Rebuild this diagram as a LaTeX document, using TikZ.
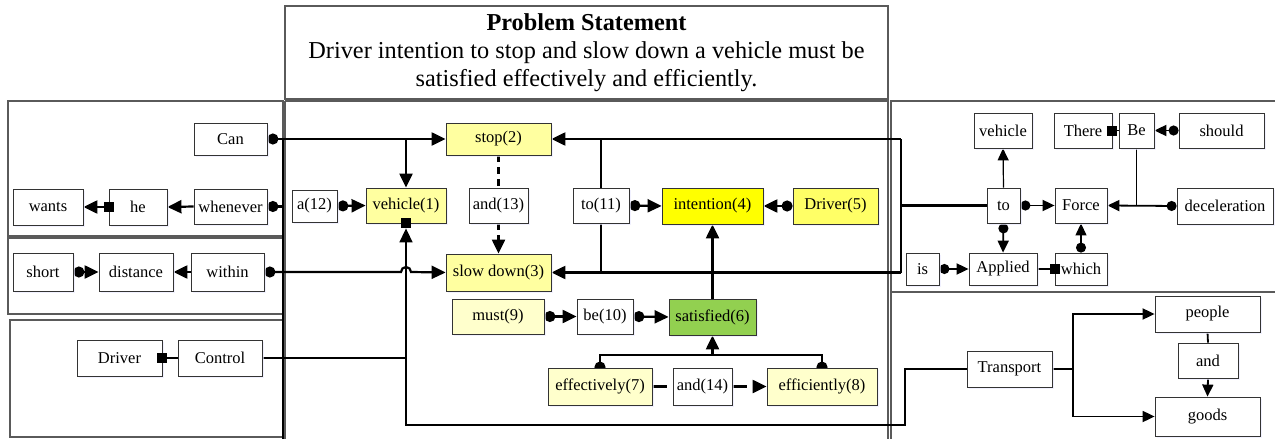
\documentclass[tikz,border=0pt]{standalone}
\usepackage{fontspec}
\setmainfont{Liberation Serif}
\usetikzlibrary{arrows.meta,backgrounds,calc,shadows}

\definecolor{ylight}{RGB}{255,255,160}
\definecolor{ypale}{RGB}{255,255,204}
\definecolor{ymid}{RGB}{255,255,102}
\definecolor{yfull}{RGB}{255,255,0}
\definecolor{gsat}{RGB}{146,208,80}
\definecolor{panelgray}{RGB}{90,90,90}

\tikzset{
  word/.style={draw=black!80, line width=0.8pt, fill=white, inner sep=0pt,
    font=\fontsize{16.5}{18}\selectfont,
    drop shadow={shadow xshift=1.5pt, shadow yshift=-1.5pt, fill=blue!8, opacity=0.7}},
  sz/.style n args={2}{minimum width=#1pt, minimum height=#2pt},
  panel/.style={draw=panelgray, line width=1.2pt},
  link/.style={line width=2.2pt},
  mlink/.style={line width=1.6pt},
  rlink/.style={line width=1.8pt},
  tlink/.style={line width=1.2pt},
  arr/.style={-{Triangle[length=14pt,width=13pt]}},
  dotarr/.style={{Circle[length=11pt]}-{Triangle[length=14pt,width=13pt]}},
  dotline/.style={{Circle[length=11pt]}-},
  rarr/.style={-{Triangle[length=12pt,width=11pt]}},
  rdotarr/.style={{Circle[length=10pt]}-{Triangle[length=12pt,width=11pt]}},
  sqmark/.style={fill=black, minimum size=10pt, inner sep=0pt},
}

\begin{document}
\begin{tikzpicture}[x=1pt,y=-1pt]
\useasboundingbox (0,0) rectangle (1275,439);

% ---------- problem statement ----------
\node[draw=panelgray, line width=1.2pt, sz={603}{93}, align=center,
      font=\fontsize{24.3}{28}\selectfont] (title) at (586.5,52.5)
  {\textbf{Problem Statement}\\
   Driver intention to stop and slow down a vehicle must be\\
   satisfied effectively and efficiently.};

% ---------- left column ----------
\node[word, sz={73}{32}] (can) at (230.5,139) {Can};
\node[word, sz={70}{36}] (wants) at (48,207) {wants};
\node[word, sz={58}{36}] (he) at (138,207) {he};
\node[word, sz={73}{35}] (whenever) at (230.5,206.5) {whenever};
\node[word, sz={60}{38}] (short) at (43,272) {short};
\node[word, sz={74}{38}] (distance) at (136,272) {distance};
\node[word, sz={73}{38}] (within) at (227.5,272) {within};
\node[word, sz={85}{36}] (driverL) at (119.5,358) {Driver};
\node[word, sz={84}{36}] (control) at (220,358) {Control};

% ---------- central graph ----------
\node[word, sz={105}{32}, fill=ylight] (stop) at (498.5,139) {stop(2)};
\node[word, sz={80}{35}, fill=ylight] (vehicle) at (406,205.5) {vehicle(1)};
\node[word, sz={45}{32}] (a12) at (314.5,206) {a(12)};
\node[word, sz={59}{35}] (and13) at (498.5,205.5) {and(13)};
\node[word, sz={105}{37}, fill=ylight] (slow) at (498.5,272.5) {slow down(3)};
\node[word, sz={56}{35}] (to11) at (601,205.5) {to(11)};
\node[word, sz={101}{36}, fill=yfull] (intention) at (712.5,206) {intention(4)};
\node[word, sz={85}{36}, fill=ymid] (driver5) at (835.5,206) {Driver(5)};
\node[word, sz={92}{35}, fill=ypale] (must) at (498,316.5) {must(9)};
\node[word, sz={56}{35}] (be10) at (605,316.5) {be(10)};
\node[word, sz={87}{36}, fill=gsat] (satisfied) at (712.5,317) {satisfied(6)};
\node[word, sz={104}{37}, fill=ypale] (effectively) at (600,386.5) {effectively(7)};
\node[word, sz={59}{37}] (and14) at (702.5,386.5) {and(14)};
\node[word, sz={110}{37}, fill=ypale] (efficiently) at (822,386.5) {efficiently(8)};

% ---------- right column ----------
\node[word, sz={58}{35}] (vehicleR) at (1003,130.5) {vehicle};
\node[word, sz={58}{35}] (there) at (1083,130.5) {There};
\node[word, sz={35}{35}] (be) at (1136.5,130.5) {Be};
\node[word, sz={85}{35}] (should) at (1221.5,130.5) {should};
\node[word, sz={33}{35}] (toR) at (1003.5,205.5) {to};
\node[word, sz={52}{35}] (force) at (1081,205.5) {Force};
\node[word, sz={96}{36}] (decel) at (1225,206) {deceleration};
\node[word, sz={33}{32}] (is) at (922.5,269) {is};
\node[word, sz={68}{32}] (applied) at (1003,269) {Applied};
\node[word, sz={52}{32}] (which) at (1081,269) {which};
\node[word, sz={85}{36}] (transport) at (1009.5,369) {Transport};
\node[word, sz={105}{36}] (people) at (1207.5,314) {people};
\node[word, sz={60}{35}] (andR) at (1208,360.5) {and};
\node[word, sz={105}{39}] (goods) at (1207.5,416.5) {goods};

% square end marks sit on top of the boxes
\node[sqmark] (sqHe) at (he.west) {};
\node[sqmark] (sqDriver) at (driverL.east) {};
\node[sqmark] (sqVehicle) at (vehicle.south) {};
\node[sqmark] (sqWhich) at (which.west) {};
\node[sqmark] (sqThere) at (there.east) {};

% routing points
\coordinate (busT) at (283,139);
\coordinate (busB) at (283,445);
\coordinate (loopT) at (901,139);
\coordinate (loopB) at (901,272.5);
\coordinate (rt) at (905,369);
\coordinate (rb) at (905,425);
\coordinate (ejoin) at (712.5,355);
\coordinate (tsplit) at (1073,369);

\begin{scope}[on background layer]
  % panels
  \draw[panel] (285,101) -- (285,445);
  \draw[panel] (285,101) -- (888,101) -- (888,445);
  \draw[panel] (8,101) rectangle (283,236);
  \draw[panel] (8,238) rectangle (283,314);
  \draw[panel] (10,320) rectangle (285,437);
  \draw[panel] (891,445) -- (891,101) -- (1280,101);
  \draw[panel] (891,292) -- (1280,292);

  % left column links
  \draw[link] (busT) -- (busB);
  \draw[link, dotarr] (can.east) -- (stop.west);
  \draw[link, arr] (can.east -| vehicle.north) -- (vehicle.north);
  \draw[link, dotline] (whenever.east) -- (whenever.east -| busT);
  \draw[link, arr] (whenever.west) -- (he.east);
  \draw[link, arr] (he.west) -- (wants.east);
  \draw[link, dotarr] (short.east) -- (distance.west);
  \draw[link, arr] (within.west) -- (distance.east);
  \draw[link, dotarr] (within.east)
     -- ($(within.east -| vehicle.south)+(-5,0)$)
     arc[start angle=180, end angle=360, radius=5]
     -- (slow.west);
  \draw[mlink] (driverL.east) -- (control.west);
  \draw[mlink] (control.east) -- (control.east -| vehicle.south);
  \draw[mlink, arr] (transport.west) -- (rt) -- (rb) -- (rb -| vehicle.south)
     -- ($(vehicle.south)+(0,5)$);

  % central links
  \draw[link, dotarr] (a12.east) -- (vehicle.west);
  \draw[link, dash pattern=on 7pt off 5pt] (stop.south) -- (and13.north);
  \draw[link, dash pattern=on 7pt off 5pt, arr] (and13.south) -- (slow.north);
  \draw[link, arr] (loopT) -- (stop.east);
  \draw[link, arr] (loopB) -- (slow.east);
  \draw[link] (loopT) -- (loopB);
  \draw[link] (stop.east -| to11.north) -- (to11.north);
  \draw[link] (to11.south) -- (slow.east -| to11.south);
  \draw[link] (loopT |- toR.west) -- (toR.west);
  \draw[link, dotarr] (to11.east) -- (intention.west);
  \draw[link, dotarr] (driver5.west) -- (intention.east);
  \draw[link, arr] (satisfied.north) -- (intention.south);
  \draw[link, dotarr] (must.east) -- (be10.west);
  \draw[link, dotarr] (be10.east) -- (satisfied.west);
  \draw[link, {Circle[length=11pt]}-{Circle[length=11pt]},
        shorten <=-5pt, shorten >=-5pt]
     (effectively.north) -- (effectively.north |- ejoin)
     -- (efficiently.north |- ejoin) -- (efficiently.north);
  \draw[link, arr] (ejoin) -- (satisfied.south);
  \draw[link, shorten >=6pt] (effectively.east) -- (and14.west);
  \draw[link, arr, dash pattern=on 15pt off 6pt on 200pt]
     (and14.east) -- (efficiently.west);

  % right column links
  \draw[tlink, rarr] (toR.north) -- (vehicleR.south);
  \draw[rlink, rdotarr] (toR.east) -- (force.west);
  \draw[rlink, rdotarr] (toR.south) -- (applied.north);
  \draw[rlink, rdotarr] (is.east) -- (applied.west);
  \draw[rlink] (applied.east) -- (which.west);
  \draw[tlink, rdotarr] (which.north) -- (force.south);
  \draw[rlink] (there.east) -- (be.west);
  \draw[rlink, rdotarr] (should.west) -- (be.east);
  \draw[rlink, rdotarr] (decel.west) -- (force.east);
  \draw[rlink] (be.south) -- (be.south |- force.east);
  \draw[rlink] (transport.east) -- (tsplit);
  \draw[rlink, rarr] (tsplit) |- (people.west);
  \draw[rlink, rarr] (tsplit) |- (goods.west);
  \draw[rlink] (people.south) -- (andR.north);
  \draw[rlink, rarr] (andR.south) -- (goods.north);
\end{scope}
\end{tikzpicture}
\end{document}
